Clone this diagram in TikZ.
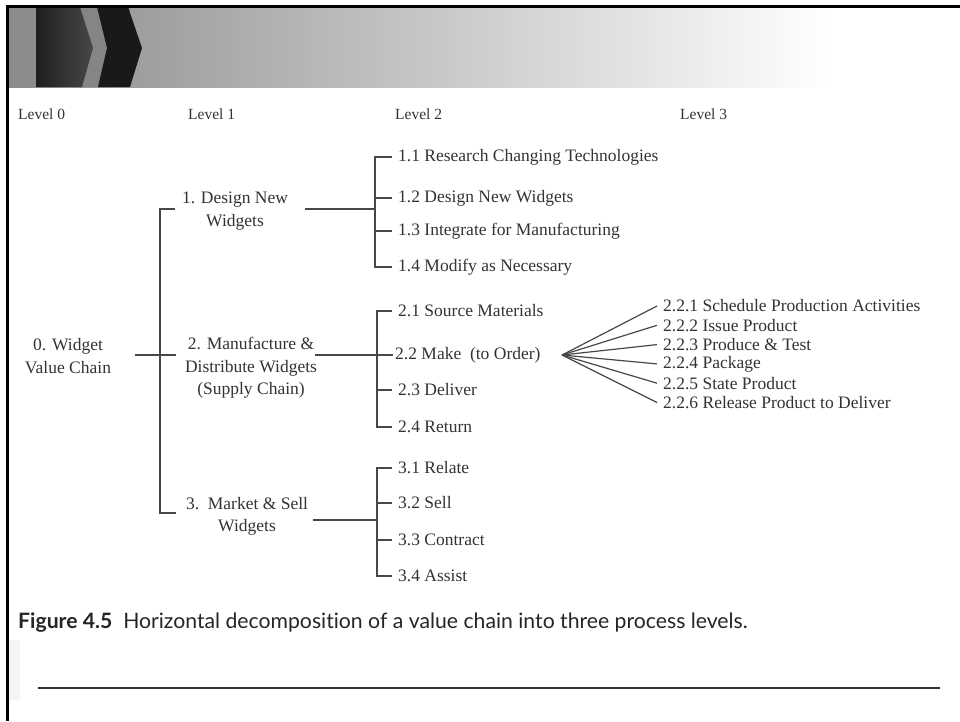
\documentclass[tikz,border=0pt]{standalone}
\usepackage{fontspec}
\setmainfont{Liberation Serif}
\newfontfamily\capfont[Ligatures=NoCommon]{Lato}
\usetikzlibrary{calc}

\begin{document}
\begin{tikzpicture}[x=1pt,y=-1pt,
  txt/.style={font=\fontsize{17.5}{22.3}\selectfont,text=black!80,inner sep=0pt},
  item/.style={txt,anchor=west},
  ctr/.style={txt,align=center},
  lvl/.style={txt,anchor=west,font=\fontsize{15.5}{18}\selectfont},
  conn/.style={draw=black!72,line width=1.3pt},
  fanline/.style={draw=black!72,line width=1.2pt}]

\useasboundingbox (0,0) rectangle (960,721);
\fill[white] (0,0) rectangle (960,721);

% title banner with chevrons
\shade[left color=black!45,right color=white] (9,7) rectangle (830,87);
\fill[black!48] (9,7) rectangle (130,87);
\fill[black!45] (9,7) rectangle (36,87);
\shade[left color=black!88,right color=black!72]
  (36,7) -- (80,7) -- (93,48) -- (82,87) -- (36,87) -- cycle;
\fill[black!90] (97,7) -- (128,7) -- (142,48) -- (130,87) -- (98,87) -- (107,48) -- cycle;

% frame
\draw[line width=3pt,black] (7,721) -- (7,6) -- (960,6);
\fill[black!4] (9,640) rectangle (20,700);

% level headings
\node[lvl] (L0) at (18,114) {Level 0};
\node[lvl] (L1) at (188,114) {Level 1};
\node[lvl] (L2) at (395,114) {Level 2};
\node[lvl] (L3) at (680,114) {Level 3};

% level 0 and level 1
\node[ctr] (n0) at (68,356) {0. Widget\\Value Chain};
\node[ctr] (n1) at (235,211) {1. Design New\\Widgets};
\node[ctr] (n2) at (251,368) {2. Manufacture \&\\Distribute Widgets\\(Supply Chain)};
\node[ctr] (n3) at (247,516) {3.\ \ Market \& Sell\\Widgets};

\coordinate (J0) at (160,355);
\coordinate (J1) at (160,209);
\coordinate (J3) at (160,513);
\draw[conn] ($(n0.east |- J0)+(24,0)$) -- (J0) -- ($(n2.west |- J0)+(-9,0)$);
\draw[conn] ($(n1.west |- J1)+(-7,0)$) -- (J1) -- (J3) -- ($(n3.west |- J3)+(-10,0)$);

% level 2: design
\node[item] (a11) at (398,157) {1.1 Research Changing Technologies};
\node[item] (a12) at (398,198) {1.2 Design New Widgets};
\node[item] (a13) at (398,231) {1.3 Integrate for Manufacturing};
\node[item] (a14) at (398,267) {1.4 Modify as Necessary};
\coordinate (B1) at (375,209);
\draw[conn] ($(n1.east |- B1)+(17,0)$) -- (B1);
\draw[conn] ($(a11.west)+(-6,0)$) -| (B1);
\draw[conn] ($(a14.west)+(-6,0)$) -| (B1);
\draw[conn] ($(a12.west)+(-6,0)$) -- (a12.west -| B1);
\draw[conn] ($(a13.west)+(-6,0)$) -- (a13.west -| B1);

% level 2: supply chain
\node[item] (a21) at (398,311) {2.1 Source Materials};
\node[item] (a22) at (395,355) {2.2 Make\ \ (to Order)};
\node[item] (a23) at (398,390) {2.3 Deliver};
\node[item] (a24) at (398,427) {2.4 Return};
\coordinate (B2) at (377,355);
\draw[conn] ($(n2.east |- B2)+(-2,0)$) -- (B2) -- ($(a22.west)+(-2,0)$);
\draw[conn] ($(a21.west)+(-6,0)$) -| (B2);
\draw[conn] ($(a24.west)+(-6,0)$) -| (B2);
\draw[conn] ($(a23.west)+(-6,0)$) -- (a23.west -| B2);

% level 2: market and sell
\node[item] (a31) at (398,468) {3.1 Relate};
\node[item] (a32) at (398,503) {3.2 Sell};
\node[item] (a33) at (398,540) {3.3 Contract};
\node[item] (a34) at (398,576) {3.4 Assist};
\coordinate (B3) at (377,520);
\draw[conn] ($(n3.east |- B3)+(5,0)$) -- (B3);
\draw[conn] ($(a31.west)+(-6,0)$) -| (B3);
\draw[conn] ($(a34.west)+(-6,0)$) -| (B3);
\draw[conn] ($(a32.west)+(-6,0)$) -- (a32.west -| B3);
\draw[conn] ($(a33.west)+(-6,0)$) -- (a33.west -| B3);

% level 3: make to order
\node[item] (a221) at (663,306.0) {2.2.1 Schedule Production Activities};
\node[item] (a222) at (663,325.3) {2.2.2 Issue Product};
\node[item] (a223) at (663,344.6) {2.2.3 Produce \& Test};
\node[item] (a224) at (663,363.9) {2.2.4 Package};
\node[item] (a225) at (663,383.2) {2.2.5 State Product};
\node[item] (a226) at (663,402.5) {2.2.6 Release Product to Deliver};
\coordinate (F) at (562,355);
\foreach \k in {a221,a222,a223,a224,a225,a226}
  \draw[fanline] (F) -- ($(\k.west)+(-6,0)$);

% caption and rule
\node[anchor=west,inner sep=0pt,font=\capfont\fontsize{21.2}{24}\selectfont,text=black!85] (cap)
  at (18,623) {\textbf{Figure 4.5}\ \ Horizontal decomposition of a value chain into three process levels.};
\coordinate (R0) at (38,688);
\coordinate (R1) at (940,688);
\draw[black!80,line width=1.3pt] (R0) -- (R1);
\end{tikzpicture}
\end{document}
